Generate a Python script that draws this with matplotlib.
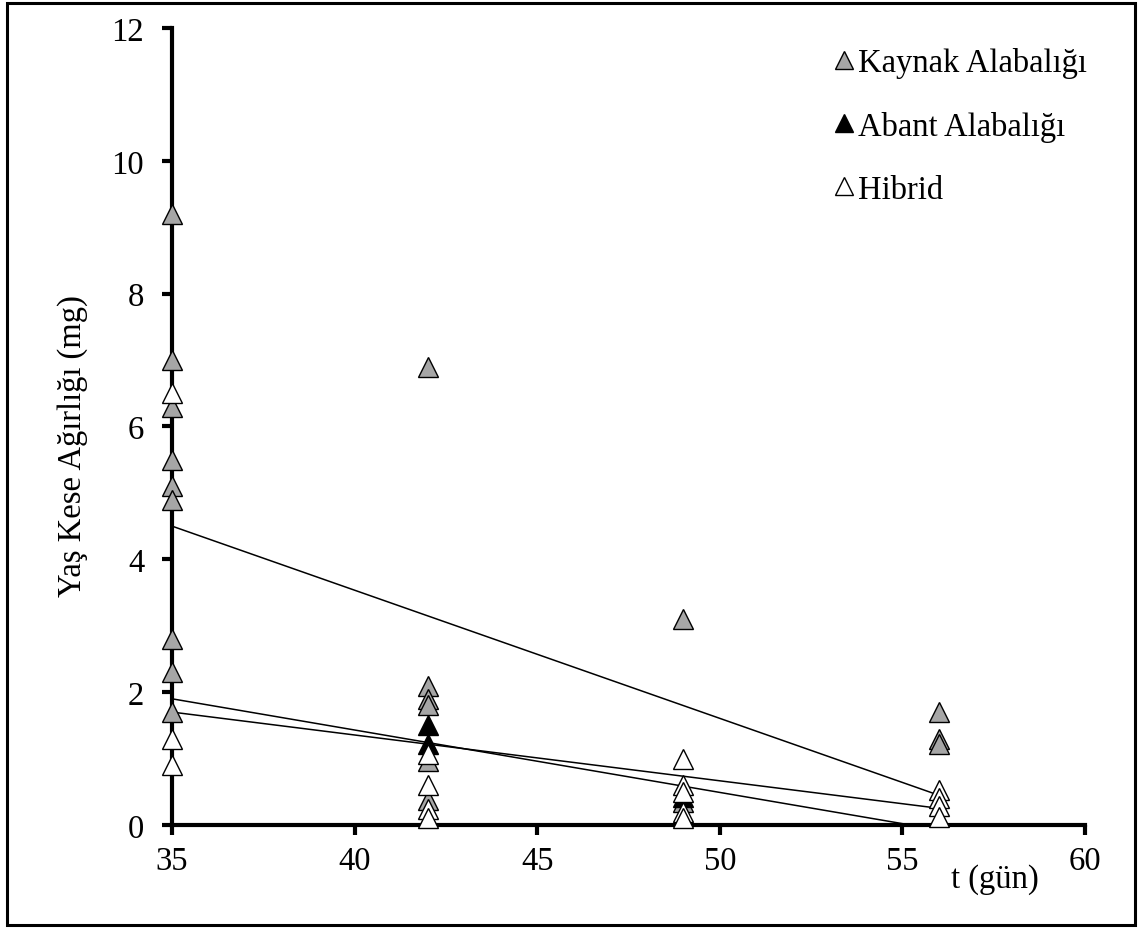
import matplotlib
import matplotlib.pyplot as plt
import numpy as np
from matplotlib.patches import Rectangle

matplotlib.use("Agg")

plt.rcParams["font.family"] = ["Liberation Serif", "DejaVu Serif"]

# wet yolk-sac weight (mg) by day
kaynak_t = [35, 35, 35, 35, 35, 35, 35, 35, 35, 42, 42, 42, 42, 42, 42, 49, 49, 56, 56, 56]
kaynak_w = [9.2, 7.0, 6.3, 5.5, 5.1, 4.9, 2.8, 2.3, 1.7, 6.9, 2.1, 1.9, 1.8, 0.97, 0.38, 3.1, 0.35, 1.7, 1.3, 1.22]

abant_t = [42, 42, 49]
abant_w = [1.5, 1.22, 0.42]

hibrid_t = [35, 35, 35, 42, 42, 42, 42, 49, 49, 49, 49, 49, 56, 56, 56, 56]
hibrid_w = [6.5, 1.3, 0.9, 1.07, 0.6, 0.24, 0.1, 1.0, 0.6, 0.5, 0.2, 0.1, 0.52, 0.4, 0.28, 0.12]

# linear trend lines: (intercept at day 35, slope per day)
trend_kaynak = (4.5, -0.193)
trend_abant = (1.9, -0.094)
trend_hibrid = (1.7, -0.069)

series = [
    ("Kaynak Alabalığı", kaynak_t, kaynak_w, "#a6a6a6"),
    ("Abant Alabalığı", abant_t, abant_w, "black"),
    ("Hibrid", hibrid_t, hibrid_w, "white"),
]

FS = 23.5

fig = plt.figure(figsize=(11.41, 9.29), dpi=100)
ax = fig.add_axes([0.1507, 0.1109, 0.8003, 0.8579])

t_line = np.linspace(35, 56, 200)
for b0, b1 in (trend_kaynak, trend_abant, trend_hibrid):
    ax.plot(t_line, b0 + b1 * (t_line - 35), color="black", lw=1.1, zorder=2)

for label, t, w, col in series:
    ax.plot(t, w, linestyle="none", marker="^", markersize=14.5,
            markerfacecolor=col, markeredgecolor="black", markeredgewidth=1.0,
            label=label, zorder=3, clip_on=False)

ax.set_xlim(35, 60)
ax.set_ylim(0, 12)
ax.set_xticks(np.arange(35, 61, 5))
ax.set_yticks(np.arange(0, 13, 2))
for side in ("top", "right"):
    ax.spines[side].set_visible(False)
for side in ("left", "bottom"):
    ax.spines[side].set_linewidth(3)
ax.tick_params(axis="both", direction="out", length=7, width=3, labelsize=FS)
ax.tick_params(axis="y", pad=13)
ax.tick_params(axis="x", pad=8)

ax.set_ylabel("Yaş Kese Ağırlığı (mg)", fontsize=FS)
ax.yaxis.set_label_coords(-0.092, 0.477)
fig.text(0.872, 0.053, "t (gün)", fontsize=FS, ha="center", va="center")

leg = ax.legend(loc="upper right", bbox_to_anchor=(1.034, 1.013), frameon=False,
                fontsize=FS, handlelength=0.55, handletextpad=0.15,
                labelspacing=1.0, markerscale=0.85)

# outer frame around the whole figure
fig.patches.append(Rectangle((0.006, 0.003), 0.989, 0.993, transform=fig.transFigure,
                             fill=False, edgecolor="black", lw=2.2))

fig.savefig("out.png", dpi=100)
